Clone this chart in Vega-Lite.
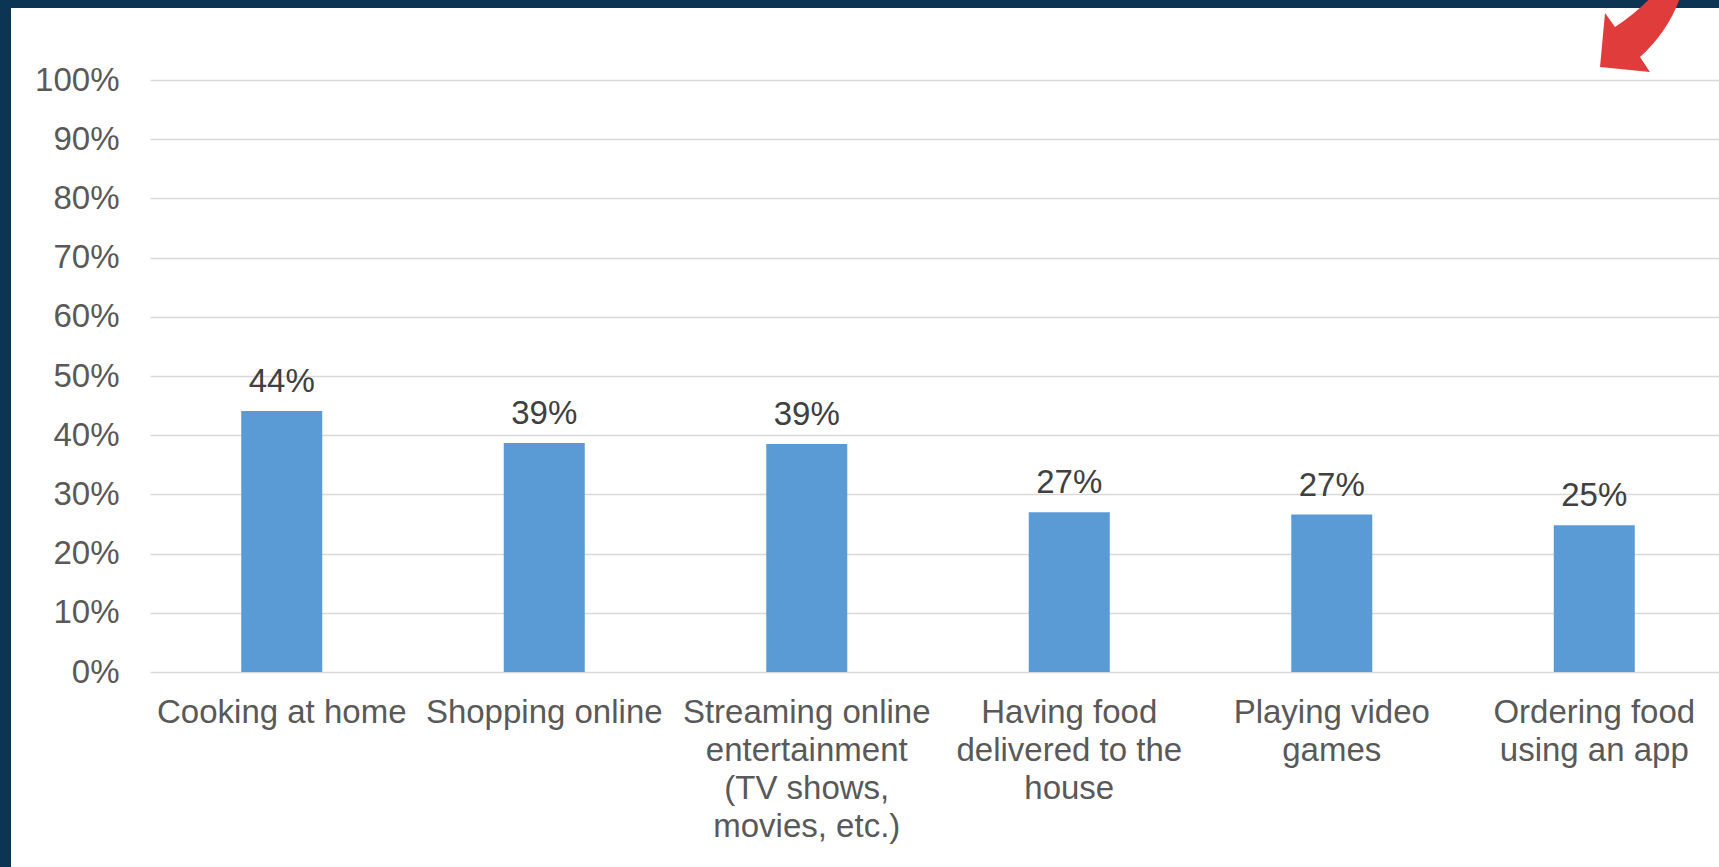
{
  "$schema": "https://vega.github.io/schema/vega-lite/v6.json",
  "autosize": "none",
  "width": 1569,
  "height": 592,
  "padding": {"left": 150, "top": 80, "right": 0, "bottom": 195},
  "background": "white",
  "config": {"view": {"stroke": null}, "font": "Liberation Sans"},
  "data": {
    "values": [
      {"activity": "Cooking at home", "share": 0.441},
      {"activity": "Shopping online", "share": 0.387},
      {"activity": "Streaming online entertainment (TV shows, movies, etc.)", "share": 0.385},
      {"activity": "Having food delivered to the house", "share": 0.270},
      {"activity": "Playing video games", "share": 0.266},
      {"activity": "Ordering food using an app", "share": 0.248}
    ]
  },
  "encoding": {
    "x": {
      "field": "activity",
      "type": "nominal",
      "sort": null,
      "scale": {"paddingInner": 0.6914, "paddingOuter": 0.3342, "align": 0.52},
      "axis": {
        "title": null,
        "labelAngle": 0,
        "labelAlign": "center",
        "labelBaseline": "top",
        "labelFontSize": 33,
        "labelColor": "#595959",
        "labelLineHeight": 38,
        "labelPadding": 24,
        "labelLimit": 0,
        "labelOverlap": false,
        "ticks": false,
        "tickSize": 0,
        "domain": false,
        "grid": false,
        "labelExpr": "datum.value == 'Streaming online entertainment (TV shows, movies, etc.)' ? ['Streaming online', 'entertainment', '(TV shows,', 'movies, etc.)'] : datum.value == 'Having food delivered to the house' ? ['Having food', 'delivered to the', 'house'] : datum.value == 'Playing video games' ? ['Playing video', 'games'] : datum.value == 'Ordering food using an app' ? ['Ordering food', 'using an app'] : datum.value"
      }
    },
    "y": {
      "field": "share",
      "type": "quantitative",
      "scale": {"domain": [0, 1], "nice": false},
      "axis": {
        "title": null,
        "values": [0, 0.1, 0.2, 0.3, 0.4, 0.5, 0.6, 0.7, 0.8, 0.9, 1],
        "format": ".0%",
        "labelFontSize": 33,
        "labelColor": "#595959",
        "labelPadding": 31,
        "ticks": false,
        "tickSize": 0,
        "domain": false,
        "grid": true,
        "gridColor": "#d9d9d9",
        "gridWidth": 1.5
      }
    }
  },
  "layer": [
    {"mark": {"type": "bar", "color": "#5b9bd5"}},
    {
      "mark": {"type": "text", "baseline": "alphabetic", "dy": -19, "fontSize": 33, "color": "#404040"},
      "encoding": {"text": {"field": "share", "type": "quantitative", "format": ".0%"}}
    },
    {
      "data": {"values": [{}]},
      "mark": {"type": "rect", "color": "#0b3553"},
      "encoding": {"x": {"value": -150}, "x2": {"value": -139}, "y": {"value": -80}, "y2": {"value": 787}}
    },
    {
      "data": {"values": [{}]},
      "mark": {"type": "rect", "color": "#0b3553"},
      "encoding": {"x": {"value": -150}, "x2": {"value": 1569}, "y": {"value": -80}, "y2": {"value": -72}}
    },
    {
      "data": {"values": [{}]},
      "mark": {
        "type": "point",
        "filled": true,
        "opacity": 1,
        "color": "#e03c3c",
        "strokeWidth": 0,
        "size": 7056,
        "shape": "M -0.952 0.786 L -0.833 -0.5 L -0.595 -0.167 Q -0.048 -0.524 0.381 -1 L 1 -1 Q 0.714 -0.095 0 0.548 L 0.238 0.905 Z"
      },
      "encoding": {"x": {"value": 1490}, "y": {"value": -46}}
    }
  ]
}
